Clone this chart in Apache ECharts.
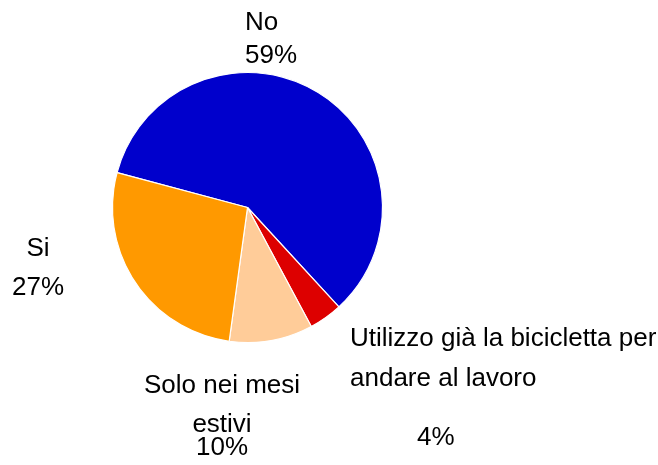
<!DOCTYPE html>
<html>
<head>
<meta charset="utf-8">
<script src="https://cdn.jsdelivr.net/npm/echarts@6/dist/echarts.min.js"></script>
<style>html,body{margin:0;padding:0;background:#fff;}#c{width:658px;height:465px;}</style>
</head>
<body>
<div id="c"></div>
<script>
const categories = ['No', 'Utilizzo già la bicicletta per andare al lavoro', 'Solo nei mesi estivi', 'Si'];
const labelLines = [['No'], ['Utilizzo già la bicicletta per', 'andare al lavoro'], ['Solo nei mesi', 'estivi'], ['Si']];
const values = [59, 4, 10, 27];
const colors = ['#0000CC', '#DD0000', '#FFCC99', '#FF9900'];

// label placement (x, top y, align) and per-line heights
const labelPos = [
  {x: 245, y: 6.5, align: 'left'},
  {x: 350, y: 319, align: 'left'},
  {x: 222, y: 366.5, align: 'center'},
  {x: 38, y: 229.5, align: 'center'}
];
const lineHeights = [
  [33, 33],
  [40, 40, 78],
  [39, 39, 7],
  [39, 39]
];
const pctPad = [0, 67, 0, 0];

const total = values.reduce((a, b) => a + b, 0);
const FONT = {fontFamily: 'Liberation Sans', fontSize: 26, color: '#000'};

const data = categories.map((name, i) => {
  const lines = labelLines[i];
  const lh = lineHeights[i];
  const rich = {};
  let parts = [];
  lines.forEach((t, j) => {
    rich['l' + j] = Object.assign({}, FONT, {lineHeight: lh[j]});
    parts.push('{l' + j + '|' + t + '}');
  });
  const pj = lines.length;
  rich['p'] = Object.assign({}, FONT, {lineHeight: lh[pj], padding: [0, 0, 0, pctPad[i]]});
  parts.push('{p|' + Math.round(values[i] / total * 100) + '%}');
  return {
    name: name,
    value: values[i],
    itemStyle: {color: colors[i]},
    label: {formatter: parts.join('\n'), rich: rich, align: labelPos[i].align}
  };
});

const chart = echarts.init(document.getElementById('c'), null, {renderer: 'canvas'});
chart.setOption({
  animation: false,
  backgroundColor: '#fff',
  series: [{
    type: 'pie',
    center: [247.5, 207.5],
    radius: 135,
    startAngle: 165,
    clockwise: true,
    avoidLabelOverlap: false,
    itemStyle: {borderColor: '#fff', borderWidth: 1.2},
    label: {show: true, position: 'outside'},
    labelLine: {show: false},
    labelLayout: function (p) {
      const lp = labelPos[p.dataIndex];
      return {x: lp.x, y: lp.y, align: lp.align, verticalAlign: 'top'};
    },
    emphasis: {disabled: true},
    data: data
  }]
});
</script>
</body>
</html>
